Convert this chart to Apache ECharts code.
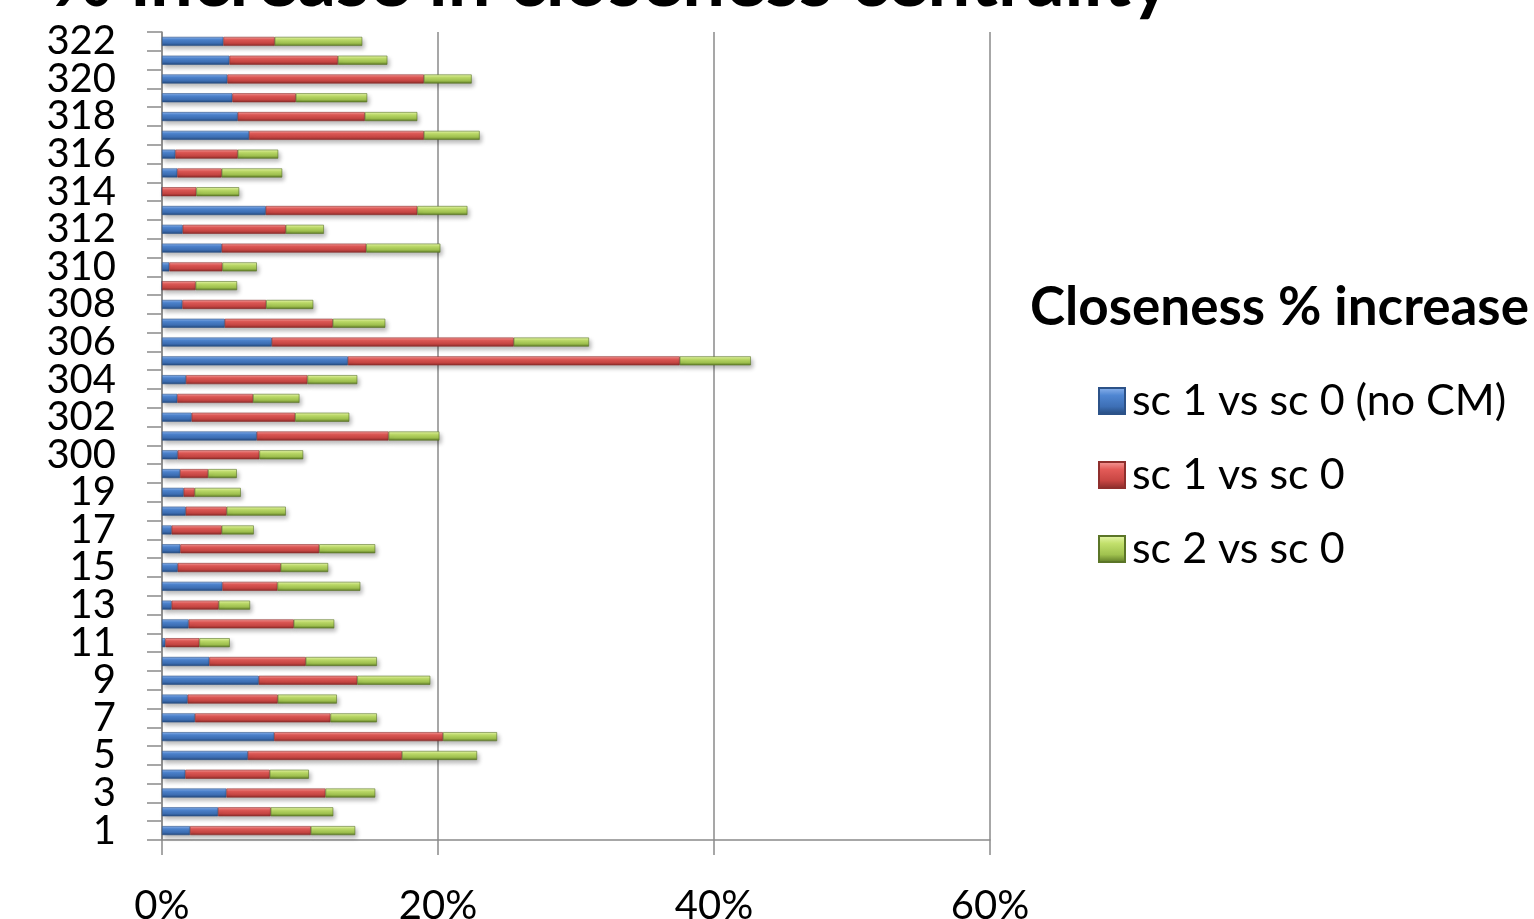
<!DOCTYPE html>
<html>
<head>
<meta charset="utf-8">
<style>
  html, body { margin: 0; padding: 0; background: #ffffff; }
  #chart { width: 1534px; height: 919px; }
</style>
<script src="https://cdn.jsdelivr.net/npm/echarts@6/dist/echarts.min.js"></script>
</head>
<body>
<div id="chart"></div>
<script>
// Node ids, bottom to top
const categories = [
  '1','2','3','4','5','6','7','8','9','10',
  '11','12','13','14','15','16','17','18','19','20',
  '300','301','302','303','304','305','306','307','308','309','310',
  '311','312','313','314','315','316','317','318','319','320','321','322'
];

// Closeness increase, in percent, per scenario comparison (stacked)
const sc1VsSc0NoCM = [
  2.03, 4.06, 4.67, 1.69, 6.22, 8.13, 2.39, 1.86, 7.01, 3.43,
  0.24, 1.93, 0.70, 4.38, 1.14, 1.33, 0.70, 1.72, 1.57, 1.31,
  1.14, 6.87, 2.15, 1.11, 1.74, 13.47, 7.96, 4.55, 1.48, 0.00, 0.53,
  4.33, 1.50, 7.52, 0.00, 1.11, 0.97, 6.31, 5.49, 5.10, 4.74, 4.89, 4.45
];
const sc1VsSc0 = [
  8.76, 3.82, 7.18, 6.12, 11.17, 12.23, 9.82, 6.53, 7.14, 6.99,
  2.47, 7.62, 3.41, 3.99, 7.47, 10.06, 3.63, 2.97, 0.80, 2.03,
  5.92, 9.55, 7.50, 5.49, 8.80, 24.05, 17.53, 7.83, 6.07, 2.44, 3.85,
  10.47, 7.47, 10.98, 2.49, 3.22, 4.52, 12.67, 9.21, 4.60, 14.24, 7.86, 3.72
];
const sc2VsSc0 = [
  3.21, 4.53, 3.60, 2.83, 5.44, 3.92, 3.36, 4.28, 5.29, 5.15,
  2.20, 2.93, 2.27, 6.00, 3.43, 4.06, 2.32, 4.28, 3.34, 2.08,
  3.17, 3.68, 3.92, 3.36, 3.61, 5.15, 5.45, 3.80, 3.41, 3.00, 2.49,
  5.37, 2.76, 3.63, 3.10, 4.38, 2.93, 4.04, 3.80, 5.17, 3.46, 3.58, 6.34
];

const seriesNames = ['sc 1 vs sc 0 (no CM)', 'sc 1 vs sc 0', 'sc 2 vs sc 0'];
const xTicks = { min: 0, max: 60, interval: 20 };

const FONT = 'Lato, "Open Sans", "DejaVu Sans", sans-serif';
const AXIS_GREY = '#8a8a8a';

// Bevelled bar fill: light top edge, darker underside
function bevel(top, upper, lower, bottom) {
  return new echarts.graphic.LinearGradient(0, 0, 0, 1, [
    { offset: 0, color: top },
    { offset: 0.3, color: upper },
    { offset: 0.7, color: lower },
    { offset: 1, color: bottom }
  ]);
}

const fills = [
  { color: bevel('#8fb6ee', '#4f86d2', '#3d6fb5', '#24487a'), border: '#2c5288' },
  { color: bevel('#f6a09e', '#e35b58', '#c84643', '#862a28'), border: '#8f2f2d' },
  { color: bevel('#e9f8b0', '#c2e06c', '#a0c24f', '#5a7624'), border: '#5b7527' }
];

const values = [sc1VsSc0NoCM, sc1VsSc0, sc2VsSc0];

const chart = echarts.init(document.getElementById('chart'), null, { renderer: 'canvas' });

chart.setOption({
  backgroundColor: '#ffffff',
  animation: false,
  textStyle: { fontFamily: FONT },
  graphic: [
    {
      type: 'text',
      x: 50,
      y: -57,
      style: {
        text: '% increase in closeness centrality',
        font: 'bold 76px ' + FONT,
        fill: '#000000'
      }
    },
    {
      type: 'text',
      x: 1030,
      y: 281,
      style: {
        text: 'Closeness % increase',
        font: 'bold 53px ' + FONT,
        fill: '#000000'
      }
    }
  ],
  legend: {
    data: seriesNames,
    orient: 'vertical',
    left: 1093,
    top: 373,
    icon: 'rect',
    itemWidth: 26,
    itemHeight: 26,
    itemGap: 28,
    textStyle: {
      fontFamily: FONT,
      fontSize: 43,
      color: '#000000',
      lineHeight: 46,
      padding: [0, 0, 0, 2]
    }
  },
  grid: {
    left: 162,
    right: 544,
    top: 32,
    bottom: 79,
    containLabel: false,
    outerBoundsMode: 'none'
  },
  xAxis: {
    type: 'value',
    min: xTicks.min,
    max: xTicks.max,
    interval: xTicks.interval,
    axisLine: { show: true, lineStyle: { color: AXIS_GREY, width: 1.5 } },
    axisTick: { show: true, length: 15, lineStyle: { color: AXIS_GREY, width: 1.5 } },
    axisLabel: {
      formatter: '{value}%',
      fontFamily: FONT,
      fontSize: 40,
      color: '#000000',
      margin: 46,
      hideOverlap: false
    },
    splitLine: { show: true, lineStyle: { color: AXIS_GREY, width: 1.5 } }
  },
  yAxis: {
    type: 'category',
    data: categories,
    boundaryGap: true,
    axisLine: { show: true, lineStyle: { color: AXIS_GREY, width: 1.5 } },
    axisTick: { show: true, interval: 0, length: 15, lineStyle: { color: AXIS_GREY, width: 1.5 } },
    axisLabel: {
      interval: 0,
      // every other node id is printed
      formatter: (value, index) => (index % 2 === 0 ? value : ''),
      showMinLabel: true,
      showMaxLabel: true,
      hideOverlap: false,
      fontFamily: FONT,
      fontSize: 40,
      lineHeight: 32,
      color: '#000000',
      margin: 46
    },
    splitLine: { show: false }
  },
  series: values.map((data, i) => ({
    name: seriesNames[i],
    type: 'bar',
    stack: 'closeness',
    barWidth: 9,
    data: data,
    itemStyle: {
      color: fills[i].color,
      borderColor: fills[i].border,
      borderWidth: 0.6,
      shadowColor: 'rgba(0,0,0,0.28)',
      shadowBlur: 4,
      shadowOffsetX: 2,
      shadowOffsetY: 3
    },
    emphasis: { disabled: true }
  }))
});
</script>
</body>
</html>
